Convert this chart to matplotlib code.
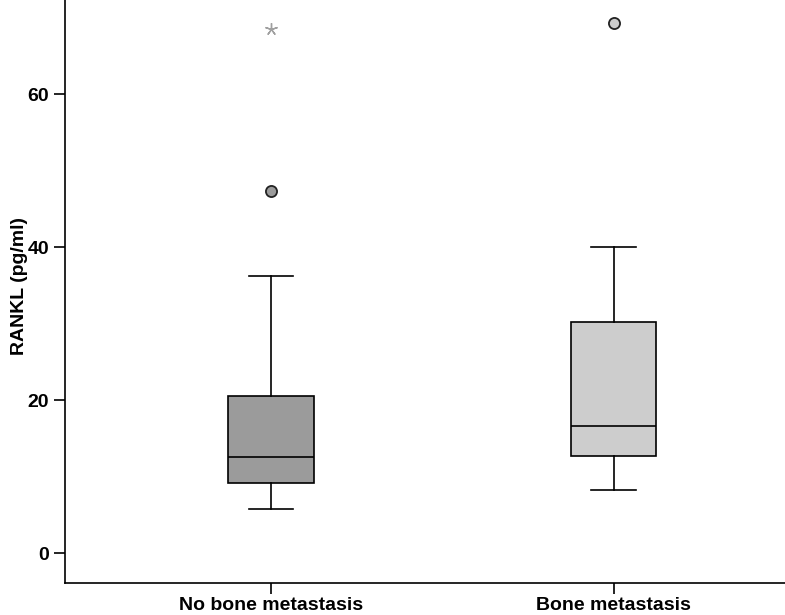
import matplotlib
matplotlib.use('Agg')
import matplotlib.pyplot as plt

plt.rcParams['font.family'] = ['Liberation Sans', 'DejaVu Sans']

groups = ['No bone metastasis', 'Bone metastasis']
q1 = [9.2, 12.8]
med = [12.6, 16.6]
q3 = [20.6, 30.3]
whislo = [5.8, 8.3]
whishi = [36.3, 40.0]
circle_out = [[47.4], [69.4]]
star_out = [[68.6], []]
fills = ['#9b9b9b', '#cdcdcd']

fig = plt.figure(figsize=(7.85, 6.15), dpi=100)
ax = fig.add_axes([0.083, 0.052, 0.917, 0.948])

stats = []
for i in range(len(groups)):
    stats.append({'q1': q1[i], 'med': med[i], 'q3': q3[i],
                  'whislo': whislo[i], 'whishi': whishi[i], 'fliers': []})

bp = ax.bxp(stats, positions=[1, 2], widths=0.25, patch_artist=True,
            showfliers=False,
            boxprops=dict(edgecolor='black', linewidth=1.2),
            medianprops=dict(color='black', linewidth=1.2),
            whiskerprops=dict(color='black', linewidth=1.2),
            capprops=dict(color='black', linewidth=1.2), capwidths=0.13)
for patch, c in zip(bp['boxes'], fills):
    patch.set_facecolor(c)

for i in range(len(groups)):
    if circle_out[i]:
        ax.plot([i + 1] * len(circle_out[i]), circle_out[i], 'o', ms=8,
                mfc=fills[i], mec='#222222', mew=1.3)
    if star_out[i]:
        ax.plot([i + 1] * len(star_out[i]), star_out[i], marker=(5, 2, 0),
                ls='none', ms=9, color='#a0a0a0', mew=1.0)

ax.set_xlim(0.4, 2.5)
ax.set_ylim(-3.86, 72.35)
ax.set_yticks([0, 20, 40, 60])
ax.set_xticks([1, 2])
ax.set_xticklabels(groups)
ax.set_ylabel('RANKL (pg/ml)', fontsize=14, fontweight='bold')
ax.yaxis.set_label_coords(-0.052, 0.51)
ax.spines['top'].set_visible(False)
ax.spines['right'].set_visible(False)
for s in ['left', 'bottom']:
    ax.spines[s].set_linewidth(1.2)
ax.tick_params(axis='both', length=8, width=1.2, labelsize=14)
ax.tick_params(axis='x', pad=2)
for lab in ax.get_xticklabels() + ax.get_yticklabels():
    lab.set_fontweight('bold')

fig.savefig('out.png', dpi=100)
